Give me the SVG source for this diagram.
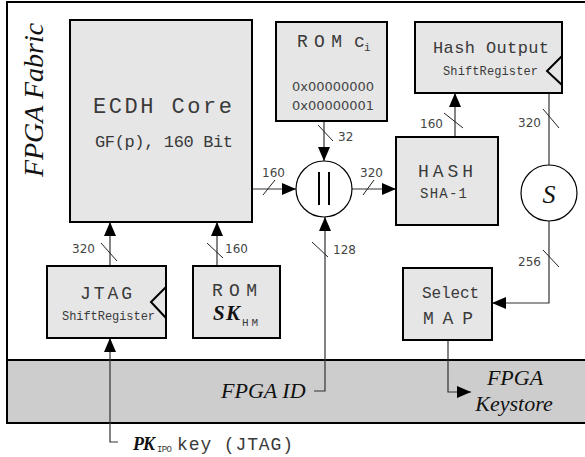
<svg xmlns="http://www.w3.org/2000/svg" width="585" height="457" viewBox="0 0 585 457">
<defs>
<style>
.box{fill:#e6e6e6;stroke:#000;stroke-width:2}
.ln{fill:none;stroke:#333;stroke-width:1.2}
.tk{stroke:#222;stroke-width:1}
.mono{font-family:"Liberation Mono",monospace;fill:#3a3a3a}
.num{font-family:"DejaVu Sans",sans-serif;font-size:12px;fill:#444}
.ser{font-family:"Liberation Serif",serif;font-style:italic;fill:#111}
</style>
<marker id="ah" viewBox="0 0 14 12" refX="14" refY="6" markerWidth="14" markerHeight="12" markerUnits="userSpaceOnUse" orient="auto">
<path d="M0,0 L14,6 L0,12 Z" fill="#000"/>
</marker>
</defs>
<rect x="0" y="0" width="585" height="457" fill="#fff"/>
<g id="fabric">
<rect x="7" y="360" width="580" height="63" fill="#cdcdcd"/>
<rect x="7" y="2" width="580" height="421" fill="none" stroke="#000" stroke-width="2"/>
<line x1="7" y1="360" x2="587" y2="360" stroke="#000" stroke-width="2"/>
<text class="ser" font-size="28" text-anchor="middle" transform="translate(43,100) rotate(-90)">FPGA Fabric</text>
</g>
<g id="connectors">
<line class="ln" x1="252" y1="189" x2="296" y2="189" marker-end="url(#ah)"/>
<line class="tk" x1="263" y1="195" x2="275" y2="180"/>
<text class="num" x="262" y="177">160</text>
<line class="ln" x1="352" y1="189" x2="396" y2="189" marker-end="url(#ah)"/>
<line class="tk" x1="363" y1="195" x2="374" y2="180"/>
<text class="num" x="360" y="177">320</text>
<line class="ln" x1="324" y1="121" x2="324" y2="161" marker-end="url(#ah)"/>
<line class="tk" x1="318" y1="125" x2="333" y2="141"/>
<text class="num" x="338" y="141">32</text>
<polyline class="ln" points="314,391 325,391 325,217" marker-end="url(#ah)"/>
<line class="tk" x1="312" y1="242" x2="328" y2="257"/>
<text class="num" x="333" y="254">128</text>
<line class="ln" x1="455" y1="137" x2="455" y2="93" marker-end="url(#ah)"/>
<line class="tk" x1="444" y1="113" x2="463" y2="128"/>
<text class="num" x="420" y="128">160</text>
<line class="ln" x1="549" y1="93" x2="549" y2="165"/>
<line class="tk" x1="543" y1="109" x2="559" y2="128"/>
<text class="num" x="518" y="127">320</text>
<polyline class="ln" points="549,221 549,303 492,303" marker-end="url(#ah)"/>
<line class="tk" x1="543" y1="250" x2="559" y2="267"/>
<text class="num" x="518" y="266">256</text>
<line class="ln" x1="110" y1="266" x2="110" y2="222" marker-end="url(#ah)"/>
<line class="tk" x1="101" y1="243" x2="117" y2="261"/>
<text class="num" x="72" y="253">320</text>
<line class="ln" x1="217" y1="266" x2="217" y2="222" marker-end="url(#ah)"/>
<line class="tk" x1="207" y1="243" x2="223" y2="258"/>
<text class="num" x="225" y="253">160</text>
<polyline class="ln" points="118,442 110,442 110,338" marker-end="url(#ah)"/>
<polyline class="ln" points="448,340 448,392 471,392" marker-end="url(#ah)"/>
</g>
<g id="ecdh">
<rect class="box" x="70" y="20" width="182" height="202"/>
<text class="mono" x="93" y="113" font-size="22" textLength="139">ECDH Core</text>
<text class="mono" x="95" y="147" font-size="17" textLength="138">GF(p), 160 Bit</text>
</g>
<g id="romc">
<rect class="box" x="276" y="22" width="111" height="99"/>
<text class="mono" x="297" y="47" font-size="18" textLength="45">ROM</text>
<text class="mono" x="354" y="47" font-size="18">c</text>
<text class="mono" x="364" y="51" font-size="11">i</text>
<text class="num" x="292" y="91" style="font-size:13px">0x00000000</text>
<text class="num" x="292" y="110" style="font-size:13px">0x00000001</text>
</g>
<g id="hashout">
<rect class="box" x="415" y="22" width="147" height="71"/>
<polyline points="562,56 547,71 562,85" fill="none" stroke="#000" stroke-width="2"/>
<text class="mono" x="433" y="53" font-size="17" textLength="116">Hash Output</text>
<text class="mono" x="443" y="75" font-size="12" textLength="95">ShiftRegister</text>
</g>
<g id="concat">
<circle cx="324" cy="189" r="28" fill="#fff" stroke="#000" stroke-width="1.2"/>
<line x1="319" y1="172" x2="319" y2="205" stroke="#000" stroke-width="2"/>
<line x1="329" y1="172" x2="329" y2="205" stroke="#000" stroke-width="2"/>
</g>
<g id="hash">
<rect class="box" x="396" y="137" width="102" height="88"/>
<text class="mono" x="418" y="177" font-size="18" textLength="55">HASH</text>
<text class="mono" x="420" y="198" font-size="14" textLength="47">SHA-1</text>
</g>
<g id="s">
<circle cx="549" cy="193" r="28" fill="#fff" stroke="#000" stroke-width="1.2"/>
<text class="ser" x="549" y="203" font-size="26" text-anchor="middle">S</text>
</g>
<g id="jtag">
<rect class="box" x="47" y="266" width="119" height="72"/>
<polyline points="166,287 151,302 166,318" fill="none" stroke="#000" stroke-width="2"/>
<text class="mono" x="80" y="299" font-size="18" textLength="52">JTAG</text>
<text class="mono" x="62" y="320" font-size="12" textLength="93">ShiftRegister</text>
</g>
<g id="romsk">
<rect class="box" x="193" y="266" width="87" height="72"/>
<text class="mono" x="212" y="296" font-size="18" textLength="45">ROM</text>
<text class="ser" x="213" y="320" font-size="21" font-weight="bold" textLength="27">SK</text>
<text class="mono" x="242" y="326" font-size="11" textLength="16">HM</text>
</g>
<g id="selectmap">
<rect class="box" x="403" y="268" width="89" height="72"/>
<text class="mono" x="422" y="298" font-size="16" textLength="57">Select</text>
<text class="mono" x="423" y="324" font-size="18" textLength="50">MAP</text>
</g>
<g id="fpgaid">
<text class="ser" x="221" y="398" font-size="22">FPGA ID</text>
</g>
<g id="keystore">
<text class="ser" x="515" y="385" font-size="22" text-anchor="middle">FPGA</text>
<text class="ser" x="514" y="411" font-size="22" text-anchor="middle">Keystore</text>
</g>
<g id="pk">
<text class="ser" x="133" y="450" font-size="18" font-weight="bold" textLength="22">PK</text>
<text class="mono" x="157" y="452" font-size="9" textLength="15">IPO</text>
<text class="mono" x="177" y="450" font-size="18" textLength="116">key (JTAG)</text>
</g>
</svg>
